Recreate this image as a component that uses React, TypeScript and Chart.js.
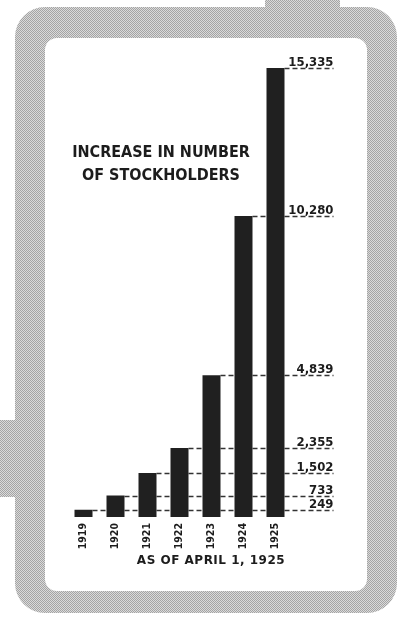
import { useEffect, useRef } from "react";
import { Chart, registerables } from "chart.js";

Chart.register(...registerables);

const years = ["1919", "1920", "1921", "1922", "1923", "1924", "1925"];
const stockholders = [249, 733, 1502, 2355, 4839, 10280, 15335];
const valueLabels = ["249", "733", "1,502", "2,355", "4,839", "10,280", "15,335"];
const titleLines = ["INCREASE IN NUMBER", "OF STOCKHOLDERS"];
const footnote = "AS OF APRIL 1, 1925";

const NARROW = '"DejaVu Sans Condensed", sans-serif';
const WIDE = '"DejaVu Sans", sans-serif';

function makePattern(ctx: CanvasRenderingContext2D) {
  const pc = document.createElement("canvas");
  pc.width = 2;
  pc.height = 2;
  const p = pc.getContext("2d")!;
  p.fillStyle = "#dadada";
  p.fillRect(0, 0, 2, 2);
  p.fillStyle = "#a4a4a4";
  p.fillRect(0, 0, 1, 1);
  p.fillRect(1, 1, 1, 1);
  return ctx.createPattern(pc, "repeat")!;
}

const framePlugin = {
  id: "frame",
  beforeDraw(chart: any) {
    const ctx: CanvasRenderingContext2D = chart.ctx;
    ctx.save();
    ctx.fillStyle = "#ffffff";
    ctx.fillRect(0, 0, chart.width, chart.height);
    ctx.fillStyle = makePattern(ctx);
    ctx.beginPath();
    ctx.roundRect(15, 7, 382, 606, 30);
    ctx.rect(0, 420, 22, 77);
    ctx.rect(265, 0, 75, 14);
    ctx.fill();
    ctx.fillStyle = "#ffffff";
    ctx.beginPath();
    ctx.roundRect(45, 38, 322, 553, 12);
    ctx.fill();
    ctx.restore();
  },
  beforeDatasetsDraw(chart: any) {
    const ctx: CanvasRenderingContext2D = chart.ctx;
    const meta = chart.getDatasetMeta(0);
    const right = chart.chartArea.right + 42;
    ctx.save();
    ctx.strokeStyle = "#333333";
    ctx.lineWidth = 1.4;
    ctx.setLineDash([5, 3]);
    meta.data.forEach((bar: any) => {
      const y = Math.round(bar.y) + 0.5;
      ctx.beginPath();
      ctx.moveTo(bar.x + bar.width / 2, y);
      ctx.lineTo(right, y);
      ctx.stroke();
    });
    ctx.restore();
  },
  afterDatasetsDraw(chart: any) {
    const ctx: CanvasRenderingContext2D = chart.ctx;
    const meta = chart.getDatasetMeta(0);
    const right = chart.chartArea.right + 42;
    ctx.save();
    ctx.fillStyle = "#1c1c1c";
    ctx.font = `bold 13px ${NARROW}`;
    ctx.textAlign = "right";
    ctx.textBaseline = "alphabetic";
    meta.data.forEach((bar: any, i: number) => {
      ctx.fillText(valueLabels[i], right, Math.round(bar.y) - 2);
    });
    ctx.font = `bold 16px ${NARROW}`;
    ctx.textAlign = "center";
    ctx.fillText(titleLines[0], 161, 157);
    ctx.fillText(titleLines[1], 161, 180);
    ctx.font = `bold 12px ${WIDE}`;
    (ctx as any).letterSpacing = "0.5px";
    ctx.fillText(footnote, 211, 564);
    ctx.restore();
  },
};

export default function App() {
  const ref = useRef<HTMLCanvasElement>(null);
  useEffect(() => {
    const chart = new Chart(ref.current!, {
      type: "bar",
      data: {
        labels: years,
        datasets: [
          {
            data: stockholders,
            backgroundColor: "#202020",
            barPercentage: 0.5625,
            categoryPercentage: 1,
          },
        ],
      },
      options: {
        animation: false,
        responsive: false,
        devicePixelRatio: 1,
        layout: { padding: { left: 67.5, right: 112.5, top: 68, bottom: 60 } },
        plugins: { legend: { display: false }, tooltip: { enabled: false } },
        scales: {
          x: {
            grid: { display: false, drawTicks: false },
            border: { display: false },
            afterFit: (s: any) => {
              s.height = 40;
            },
            ticks: {
              minRotation: 90,
              maxRotation: 90,
              autoSkip: false,
              padding: 6,
              color: "#1c1c1c",
              font: { family: NARROW, size: 10.5, weight: "bold" },
            },
          },
          y: { display: false, min: 0, max: 15335 },
        },
      },
      plugins: [framePlugin],
    });
    return () => chart.destroy();
  }, []);
  return (
    <div style={{ position: "fixed", left: 0, top: 0, width: 404, height: 617 }}>
      <canvas ref={ref} width={404} height={617} />
    </div>
  );
}
